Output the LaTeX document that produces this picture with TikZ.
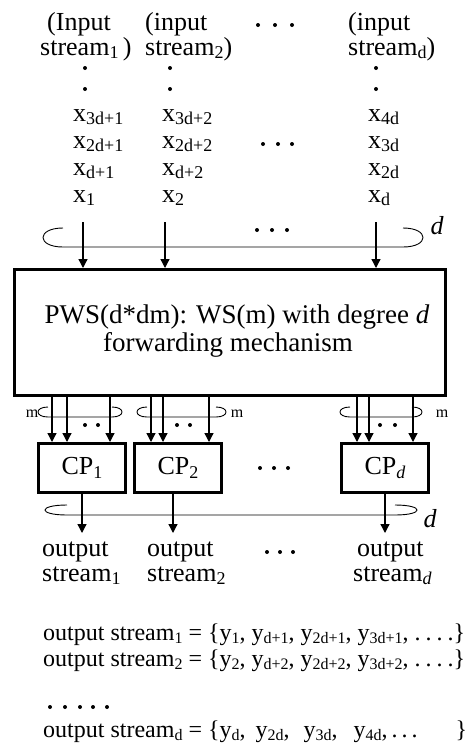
\documentclass[tikz,border=0pt]{standalone}
\usepackage{fontspec}
\setmainfont{Liberation Serif}
\usetikzlibrary{arrows.meta}
\newcommand\subs[1]{\raisebox{-0.3ex}{\fontsize{18}{18}\selectfont #1}}
\newcommand\esub[1]{\raisebox{-0.3ex}{\fontsize{16}{16}\selectfont #1}}
\newcommand\edots{.\hspace{5pt}.\hspace{5pt}.\hspace{5pt}.}
% bus loop: L, R, top, bottom, cap radius
\newcommand\busloop[5]{%
  \draw[bus] ({#1+#5},#3) .. controls ({#1-#5/3},#3) and ({#1-#5/3},#4) .. ({#1+#5},#4)
     -- ({#2-#5},#4) .. controls ({#2+#5/3},#4) and ({#2+#5/3},#3) .. ({#2-#5},#3);}
\begin{document}
\begin{tikzpicture}[x=1pt,y=-1pt,
  txt/.style={font=\fontsize{26}{26}\selectfont, inner sep=0pt, anchor=base},
  txtl/.style={txt, anchor=base west},
  boxtxt/.style={font=\fontsize{27}{27}\selectfont, inner sep=0pt, anchor=base},
  eqtxt/.style={font=\fontsize{24}{24}\selectfont, inner sep=0pt, anchor=base west},
  mlbl/.style={font=\fontsize{16}{16}\selectfont, inner sep=0pt, anchor=base},
  dlbl/.style={font=\fontsize{26}{26}\selectfont\itshape, inner sep=0pt, anchor=base},
  arr/.style={line width=1.3pt, -{Triangle[width=9pt,length=9pt]}},
  bus/.style={line width=0.9pt},
  bigbox/.style={draw, line width=3pt, inner sep=0pt},
  cpbox/.style={draw, line width=3pt, minimum width=87pt, minimum height=49pt, inner sep=0pt, font=\fontsize{26}{26}\selectfont},
  dotc/.style={fill=black}
]
\useasboundingbox (0,0) rectangle (470,750);

% ---- input labels
\node[txtl] (in1a) at (47,30) {(Input};
\node[txtl] (in1b) at (40,55) {stream\subs{1}\,)};
\node[txtl] (in2a) at (145,30) {(input};
\node[txtl] (in2b) at (145,55) {stream\subs{2})};
\node[txtl] (inda) at (348,30) {(input};
\node[txtl] (indb) at (348,55) {stream\subs{d})};
\foreach \x in {258,275,292} \fill[dotc] (\x,25) circle (2);
\foreach \x in {85,170,376} {\fill[dotc] (\x,68) circle (2); \fill[dotc] (\x,89) circle (2);}

% ---- input elements
\node[txtl] (x13) at (73,121) {x\subs{3d+1}};
\node[txtl] (x12) at (73,148) {x\subs{2d+1}};
\node[txtl] (x11) at (73,175) {x\subs{d+1}};
\node[txtl] (x10) at (73,202) {x\subs{1}};
\node[txtl] (x23) at (162,121) {x\subs{3d+2}};
\node[txtl] (x22) at (162,148) {x\subs{2d+2}};
\node[txtl] (x21) at (162,175) {x\subs{d+2}};
\node[txtl] (x20) at (162,202) {x\subs{2}};
\node[txtl] (xd3) at (368,121) {x\subs{4d}};
\node[txtl] (xd2) at (368,148) {x\subs{3d}};
\node[txtl] (xd1) at (368,175) {x\subs{2d}};
\node[txtl] (xd0) at (368,202) {x\subs{d}};
\foreach \x in {263,278,292} \fill[dotc] (\x,144) circle (2);

% ---- main box
\node[bigbox, minimum width=431pt, minimum height=126pt] (pws) at (230,332.5) {};
\node[boxtxt] (pwsa) at (237,323) {PWS(d*dm): WS(m) with degree \textit{d}};
\node[boxtxt] (pwsb) at (228,351) {forwarding mechanism};

% ---- input arrows and bus
\coordinate (i1) at (83,222);
\coordinate (i2) at (165,222);
\coordinate (id) at (376,222);
\busloop{43}{423}{228}{247}{20}
\foreach \c in {i1,i2,id} \draw[arr] (\c) -- (\c |- pws.north);
\foreach \x in {257,272,287} \fill[dotc] (\x,230) circle (2);
\node[dlbl] (dtop) at (437,234) {d};

% ---- CP boxes
\node[cpbox] (cp1) at (82,468) {CP\subs{1}};
\node[cpbox] (cp2) at (178,468) {CP\subs{2}};
\node[cpbox] (cpd) at (385,468) {CP\subs{\textit{d}}};
\foreach \x in {260,274,288} \fill[dotc] (\x,468) circle (2);

% ---- arrows from box to CPs
\busloop{38}{122}{407}{417}{10}
\busloop{137}{226}{407}{417}{10}
\busloop{340}{422}{407}{417}{10}
\foreach \x/\c [count=\i] in {52/cp1,67/cp1,110/cp1,151/cp2,163/cp2,209/cp2,357/cpd,369/cpd,413/cpd}
  {\coordinate (a\i) at (\x,0);
   \draw[arr] (a\i |- pws.south) -- (a\i |- \c.north);}
\foreach \x in {85,98,177,190,380,395} \fill[dotc] (\x,425) circle (2);
\node[mlbl] (m1) at (32,417) {m};
\node[mlbl] (m2) at (237,417) {m};
\node[mlbl] (md) at (442,417) {m};

% ---- outputs
\coordinate (o1) at (82,533);
\coordinate (o2) at (173,533);
\coordinate (od) at (385,533);
\busloop{45}{417}{505}{515}{22}
\draw[arr] (o1 |- cp1.south) -- (o1);
\draw[arr] (o2 |- cp2.south) -- (o2);
\draw[arr] (od |- cpd.south) -- (od);
\node[dlbl] (dbot) at (430,527) {d};

\node[txtl] (out1a) at (42,556) {output};
\node[txtl] (out1b) at (42,581) {stream\subs{1}};
\node[txtl] (out2a) at (147,556) {output};
\node[txtl] (out2b) at (147,581) {stream\subs{2}};
\node[txtl] (outda) at (357,556) {output};
\node[txtl] (outdb) at (353,581) {stream\subs{\textit{d}}};
\foreach \x in {267,280,293} \fill[dotc] (\x,552) circle (2);

% ---- equations
\node[eqtxt] (eq1) at (43,640) {output stream\esub{1} = \{y\esub{1}, y\esub{d+1}, y\esub{2d+1}, y\esub{3d+1}, \edots\}};
\node[eqtxt] (eq2) at (43,666) {output stream\esub{2} = \{y\esub{2}, y\esub{d+2}, y\esub{2d+2}, y\esub{3d+2}, \edots\}};
\foreach \x in {50,65,80,93,107} \fill[dotc] (\x,707) circle (2);
\node[eqtxt] (eqd) at (43,737) {output stream\esub{d} = \{y\esub{d}, \hspace{4pt}y\esub{2d},\hspace{8pt} y\esub{3d},\hspace{10pt} y\esub{4d},\,.\,.\,.\hspace{38pt}\}};
\end{tikzpicture}
\end{document}
